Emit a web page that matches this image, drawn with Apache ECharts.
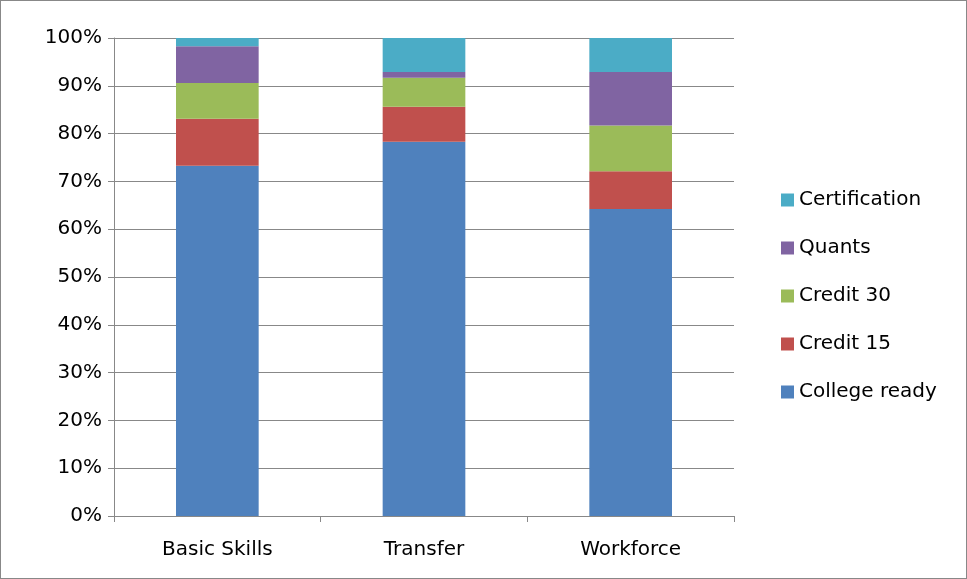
<!DOCTYPE html>
<html><head><meta charset="utf-8">
<script src="https://cdn.jsdelivr.net/npm/echarts@6/dist/echarts.min.js"></script>
<style>html,body{margin:0;padding:0;background:#fff}#c{width:967px;height:579px;box-sizing:border-box;border:1px solid #888}</style>
</head><body><div id="c"></div>
<script>
var categories = ['Basic Skills', 'Transfer', 'Workforce'];
var collegeReady = [73.3, 78.3, 64.2];
var credit15 = [9.8, 7.3, 7.9];
var credit30 = [7.5, 6.1, 9.6];
var quants = [7.7, 1.2, 11.2];
var certification = [1.7, 7.1, 7.1];

var chart = echarts.init(document.getElementById('c'));
function s(name, data, color) {
    return {name: name, type: 'bar', stack: 'a', data: data, barWidth: '40%',
        itemStyle: {color: color}};
}
chart.setOption({
    animation: false,
    textStyle: {fontFamily: 'DejaVu Sans'},
    grid: {left: 113, right: 232, top: 37, bottom: 62},
    legend: {
        orient: 'vertical', left: 775, top: 184, itemGap: 28,
        itemWidth: 13, itemHeight: 13, icon: 'rect',
        textStyle: {fontSize: 20, color: '#000'},
        data: ['Certification', 'Quants', 'Credit 30', 'Credit 15', 'College ready']
    },
    xAxis: {
        type: 'category', data: categories,
        axisLine: {lineStyle: {color: '#888'}},
        axisTick: {show: true, length: 6, lineStyle: {color: '#888'}},
        axisLabel: {fontSize: 20, color: '#000', margin: 24}
    },
    yAxis: {
        type: 'value', min: 0, max: 100, interval: 10,
        axisLine: {show: true, lineStyle: {color: '#888'}},
        axisTick: {show: true, length: 6, inside: false, lineStyle: {color: '#888'}},
        splitLine: {lineStyle: {color: '#888'}},
        axisLabel: {fontSize: 20, color: '#000', formatter: '{value}%', margin: 12}
    },
    series: [
        s('College ready', collegeReady, '#4f81bd'),
        s('Credit 15', credit15, '#c0504d'),
        s('Credit 30', credit30, '#9bbb59'),
        s('Quants', quants, '#8064a2'),
        s('Certification', certification, '#4bacc6')
    ]
});
</script></body></html>
